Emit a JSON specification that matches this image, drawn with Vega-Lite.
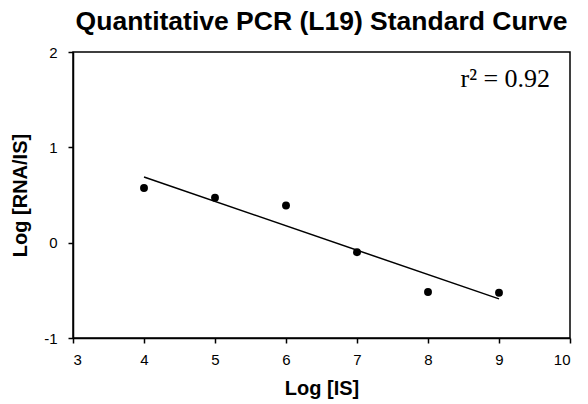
{
  "$schema": "https://vega.github.io/schema/vega-lite/v6.json",
  "width": 497,
  "height": 286,
  "autosize": "none",
  "padding": {"left": 73, "top": 52, "right": 18, "bottom": 66},
  "title": {
    "text": "Quantitative PCR (L19) Standard Curve",
    "font": "Liberation Sans",
    "fontSize": 26.5,
    "fontWeight": "bold",
    "color": "black",
    "anchor": "middle",
    "offset": 10
  },
  "config": {
    "view": {"stroke": "black", "strokeWidth": 1.5},
    "axis": {
      "grid": false,
      "domainColor": "black",
      "domainWidth": 1.5,
      "tickColor": "black",
      "tickWidth": 1.5,
      "tickSize": 5,
      "labelFont": "Liberation Sans",
      "labelFontSize": 15,
      "labelColor": "black",
      "labelExpr": "datum.value + ''",
      "titleFont": "Liberation Sans",
      "titleFontSize": 20,
      "titleFontWeight": "bold",
      "titleColor": "black"
    }
  },
  "datasets": {
    "pts": [
      {"logIS": 4, "logRatio": 0.574},
      {"logIS": 5, "logRatio": 0.472},
      {"logIS": 6, "logRatio": 0.39},
      {"logIS": 7, "logRatio": -0.1},
      {"logIS": 8, "logRatio": -0.517},
      {"logIS": 9, "logRatio": -0.525}
    ],
    "fit": [
      {"logIS": 4, "logRatio": 0.688},
      {"logIS": 9, "logRatio": -0.59}
    ],
    "label": [
      {"logIS": 9.72, "logRatio": 1.63, "text": "r² = 0.92"}
    ]
  },
  "layer": [
    {
      "data": {"name": "fit"},
      "mark": {"type": "line", "color": "black", "strokeWidth": 1.5},
      "encoding": {
        "x": {"field": "logIS", "type": "quantitative", "scale": {"domain": [3, 10]},
          "axis": {"title": "Log [IS]", "values": [3,4,5,6,7,8,9,10], "labelPadding": 9, "titlePadding": 11}},
        "y": {"field": "logRatio", "type": "quantitative", "scale": {"domain": [-1, 2]},
          "axis": {"title": "Log [RNA/IS]", "values": [-1,0,1,2], "labelPadding": 11, "titlePadding": 13}}
      }
    },
    {
      "data": {"name": "pts"},
      "mark": {"type": "circle", "color": "black", "opacity": 1, "size": 62},
      "encoding": {
        "x": {"field": "logIS", "type": "quantitative"},
        "y": {"field": "logRatio", "type": "quantitative"}
      }
    },
    {
      "data": {"name": "label"},
      "mark": {"type": "text", "font": "Liberation Serif", "fontSize": 26, "align": "right", "baseline": "alphabetic", "color": "black"},
      "encoding": {
        "x": {"field": "logIS", "type": "quantitative"},
        "y": {"field": "logRatio", "type": "quantitative"},
        "text": {"field": "text"}
      }
    }
  ]
}
